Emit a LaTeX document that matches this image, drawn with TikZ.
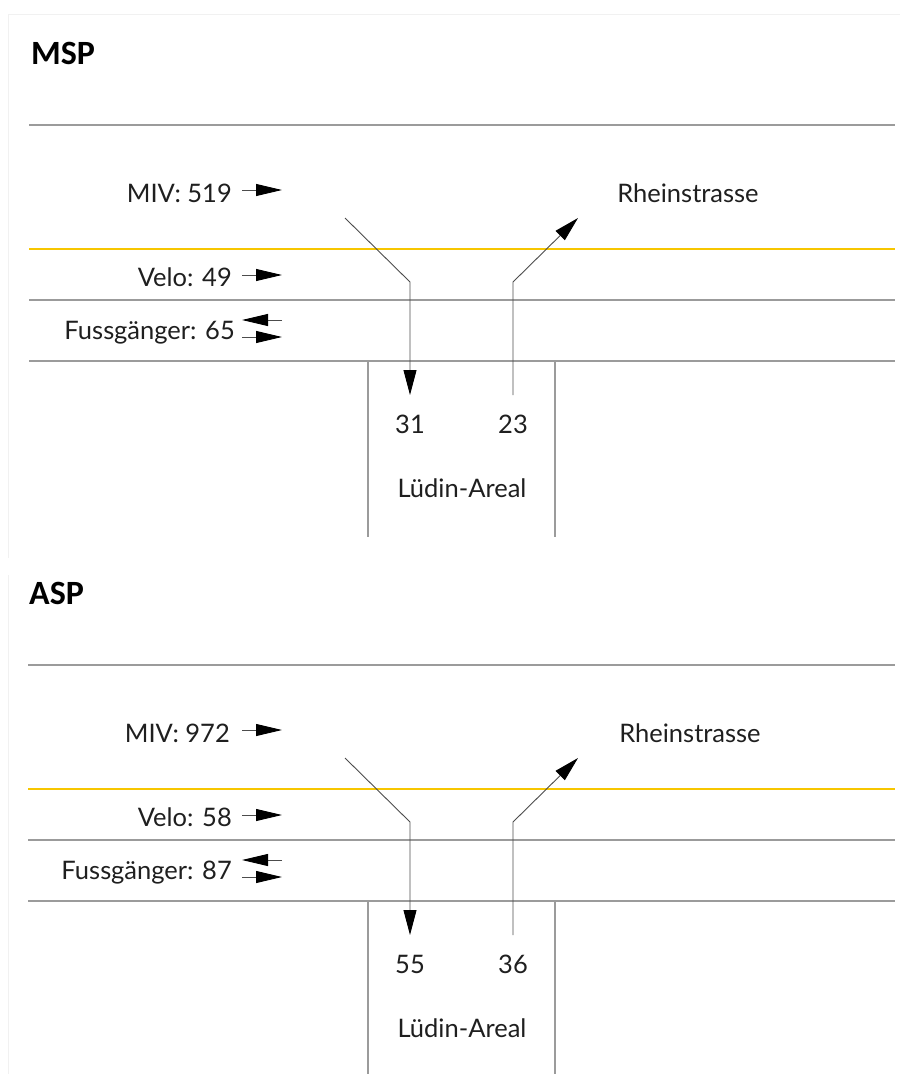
\documentclass[tikz,border=0pt]{standalone}
\usepackage{fontspec}
\setmainfont{Lato}
\newfontfamily\titlefont{Carlito}
\usetikzlibrary{arrows.meta}
\definecolor{roadgray}{RGB}{155,155,155}
\definecolor{lineyellow}{RGB}{247,198,0}
\definecolor{framegray}{RGB}{241,241,241}

\begin{document}
\begin{tikzpicture}[x=1pt, y=-1pt,
      road/.style={roadgray,line width=2pt},
      midline/.style={lineyellow,line width=2.2pt},
      lane/.style={black!70,line width=0.9pt,-{Triangle[length=26pt,width=12pt,black]}},
      flow/.style={black!70,line width=0.9pt,-{Triangle[length=25pt,width=13pt,black]}},
      lbl/.style={font=\fontsize{25.5}{30}\selectfont,inner sep=0pt,text=black!88},
      head/.style={font=\titlefont\bfseries\fontsize{34}{40}\selectfont,inner sep=0pt}]
      \useasboundingbox (0,0) rectangle (900,1074);
      \draw[framegray,line width=1pt] (900,14) -- (8,14) -- (8,558);
      \draw[framegray,line width=1pt] (8,575) -- (8,1074);

      % MSP
      \node[head,anchor=base west] at (31,64) (msp) {MSP};
      \draw[road] (29,125) -- (895,125);
      \draw[midline] (29,249) -- (895,249);
      \draw[road] (29,300) -- (895,300);
      \draw[road] (29,361) -- (895,361);
      \draw[road] (368,361) -- (368,537);
      \draw[road] (555,361) -- (555,537);
      \node[lbl,anchor=base east] at (232,202) (mivM) {MIV: 519};
      \node[lbl,anchor=base east] at (232,286) (veloM) {Velo: 49};
      \node[lbl,anchor=base east] at (235,339) (fussM) {Fussgänger: 65};
      \coordinate (mivMa) at (242,190);
      \coordinate (mivMb) at (282,190);
      \coordinate (veloMa) at (242,275);
      \coordinate (veloMb) at (282,275);
      \coordinate (fussMa) at (242,320);
      \coordinate (fussMb) at (282,320);
      \coordinate (fussMc) at (242,337);
      \coordinate (fussMd) at (282,337);
      \draw[lane] (mivMa) -- (mivMb);
      \draw[lane] (veloMa) -- (veloMb);
      \draw[lane] (fussMb) -- (fussMa);
      \draw[lane] (fussMc) -- (fussMd);
      \node[lbl,anchor=base] at (688,202) (rheinM) {Rheinstrasse};
      \node[lbl,anchor=base] at (410,433) (inM) {31};
      \node[lbl,anchor=base] at (513,433) (outM) {23};
      \node[lbl,anchor=base] at (462,497) (arealM) {Lüdin-Areal};
      \coordinate (inMa) at (345,218);
      \coordinate (inMb) at (410,282);
      \coordinate (inMc) at (410,395);
      \coordinate (outMa) at (513,395);
      \coordinate (outMb) at (513,282);
      \coordinate (outMc) at (578,218);
      \draw[flow] (inMa) -- (inMb) -- (inMc);
      \draw[flow] (outMa) -- (outMb) -- (outMc);

      % ASP
      \begin{scope}[shift={(0,540)}]
      \node[head,anchor=base west] at (29,64) (asp) {ASP};
      \draw[road] (28,125) -- (895,125);
      \draw[midline] (28,249) -- (895,249);
      \draw[road] (28,300) -- (895,300);
      \draw[road] (28,361) -- (895,361);
      \draw[road] (368,361) -- (368,534);
      \draw[road] (555,361) -- (555,534);
      \node[lbl,anchor=base east] at (230,202) (mivA) {MIV: 972};
      \node[lbl,anchor=base east] at (232,286) (veloA) {Velo: 58};
      \node[lbl,anchor=base east] at (232,339) (fussA) {Fussgänger: 87};
      \coordinate (mivAa) at (242,190);
      \coordinate (mivAb) at (282,190);
      \coordinate (veloAa) at (242,275);
      \coordinate (veloAb) at (282,275);
      \coordinate (fussAa) at (242,320);
      \coordinate (fussAb) at (282,320);
      \coordinate (fussAc) at (242,337);
      \coordinate (fussAd) at (282,337);
      \draw[lane] (mivAa) -- (mivAb);
      \draw[lane] (veloAa) -- (veloAb);
      \draw[lane] (fussAb) -- (fussAa);
      \draw[lane] (fussAc) -- (fussAd);
      \node[lbl,anchor=base] at (690,202) (rheinA) {Rheinstrasse};
      \node[lbl,anchor=base] at (410,433) (inA) {55};
      \node[lbl,anchor=base] at (513,433) (outA) {36};
      \node[lbl,anchor=base] at (462,497) (arealA) {Lüdin-Areal};
      \coordinate (inAa) at (345,218);
      \coordinate (inAb) at (410,282);
      \coordinate (inAc) at (410,395);
      \coordinate (outAa) at (513,395);
      \coordinate (outAb) at (513,282);
      \coordinate (outAc) at (578,218);
      \draw[flow] (inAa) -- (inAb) -- (inAc);
      \draw[flow] (outAa) -- (outAb) -- (outAc);
      \end{scope}
    \end{tikzpicture}
\end{document}
